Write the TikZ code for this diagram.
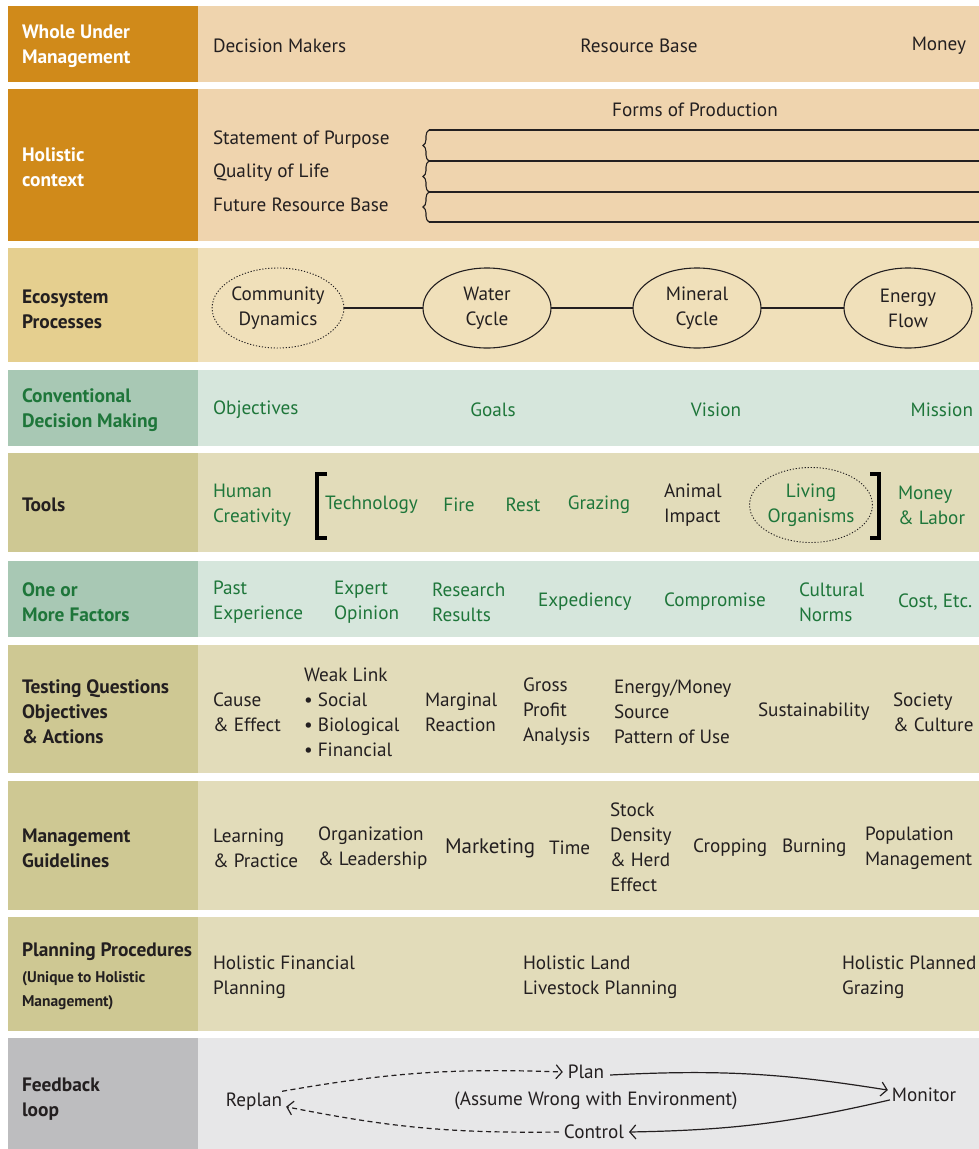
\documentclass[tikz,border=0pt]{standalone}
\usepackage{fontspec}
\setmainfont{PT Sans}
\usetikzlibrary{shapes.geometric,arrows.meta,decorations.pathreplacing}
\definecolor{orangeD}{RGB}{208,138,26}
\definecolor{peach}{RGB}{239,212,174}
\definecolor{sandD}{RGB}{229,207,143}
\definecolor{sandL}{RGB}{240,224,186}
\definecolor{greenD}{RGB}{168,200,180}
\definecolor{greenL}{RGB}{214,230,220}
\definecolor{greenT}{RGB}{30,118,58}
\definecolor{oliveD}{RGB}{206,200,147}
\definecolor{oliveL}{RGB}{226,220,186}
\definecolor{grayD}{RGB}{189,189,191}
\definecolor{grayL}{RGB}{231,231,232}
\definecolor{ink}{RGB}{35,31,32}
\newcommand\mainfs{\fontsize{19.2}{25}\selectfont}
\newcommand\labfs{\fontsize{19.4}{25}\selectfont}
\newcommand\bigfs{\fontsize{21}{25}\selectfont}
\newcommand\smallfs{\fontsize{15.5}{24}\selectfont}
\begin{document}
\begin{tikzpicture}[x=1pt,y=-1pt,
  every node/.style={inner sep=0pt, outer sep=0pt, text=ink, font=\mainfs, align=center},
  txt/.style={anchor=west, align=left},
  lab/.style={anchor=west, align=left, font=\labfs\bfseries},
  grn/.style={text=greenT},
  proc/.style={ellipse, draw=ink, line width=1.1pt, minimum width=128pt, minimum height=80pt},
  dotproc/.style={ellipse, draw=ink, line width=0.9pt, dash pattern=on 1.2pt off 1.8pt},
  link/.style={draw=ink, line width=1.1pt},
  rule/.style={draw=ink, line width=1.1pt},
  bracketline/.style={draw=black, line width=3.5pt},
  loopsolid/.style={draw=ink, line width=1.2pt, -{Straight Barb[length=6pt,width=14pt,line width=1.2pt]}},
  loopdash/.style={loopsolid, dash pattern=on 5pt off 3.5pt}
]
\useasboundingbox (0,0) rectangle (979,1149);
\fill[white] (0,0) rectangle (979,1149);
% row backgrounds
\fill[orangeD] (8,6) rectangle (198,82);   \fill[peach] (198,6) rectangle (979,82);
\fill[orangeD] (8,89) rectangle (198,241); \fill[peach] (198,89) rectangle (979,241);
\fill[sandD] (8,248) rectangle (198,362);  \fill[sandL] (198,248) rectangle (979,362);
\fill[greenD] (8,370) rectangle (198,446); \fill[greenL] (198,370) rectangle (979,446);
\fill[oliveD] (8,453) rectangle (198,552); \fill[oliveL] (198,453) rectangle (979,552);
\fill[greenD] (8,561) rectangle (198,637); \fill[greenL] (198,561) rectangle (979,637);
\fill[oliveD] (8,645) rectangle (198,773); \fill[oliveL] (198,645) rectangle (979,773);
\fill[oliveD] (8,781) rectangle (198,910); \fill[oliveL] (198,781) rectangle (979,910);
\fill[oliveD] (8,917) rectangle (198,1031); \fill[oliveL] (198,917) rectangle (979,1031);
\fill[grayD] (8,1038) rectangle (198,1149); \fill[grayL] (198,1038) rectangle (979,1149);

% Row 1
\node[lab, text=white] (l1) at (22,46) {Whole Under\\Management};
\node[txt] (dm) at (213,46) {Decision Makers};
\node (rb) at (639,46) {Resource Base};
\node[anchor=east] (money) at (966,46) {Money};

% Row 2
\node[lab, text=white] (l2) at (22,167) {Holistic\\context};
\node (fop) at (695,110) {Forms of Production};
\node[txt] (sop) at (213,140) {Statement of Purpose};
\node[txt] (qol) at (213,173) {Quality of Life};
\node[txt] (frb) at (213,205) {Future Resource Base};
\foreach \ya/\yb in {130/161,161/192,192/222}{
  \draw[rule, decorate, decoration={brace, amplitude=6pt}] (429,\yb) -- (429,\ya);
}
\foreach \yy in {130,161,192,222}{
  \draw[rule] (429,\yy) -- (979,\yy);
}

% Row 3
\node[lab] (l3) at (22,309) {Ecosystem\\Processes};
\node[proc, dotproc] (comm) at (278,308) {Community\\Dynamics};
\node[proc] (water) at (487,308) {Water\\Cycle};
\node[proc] (mineral) at (697,308) {Mineral\\Cycle};
\node[proc] (energy) at (908,308) {Energy\\Flow};
\draw[link] (comm) -- (water);
\draw[link] (water) -- (mineral);
\draw[link] (mineral) -- (energy);

% Row 4
\node[lab, grn] (l4) at (22,410) {Conventional\\Decision Making};
\node[txt, grn] (obj) at (213,410) {Objectives};
\node[grn] (goals) at (493,410) {Goals};
\node[grn] (vision) at (716,410) {Vision};
\node[anchor=east, grn] (mission) at (973,410) {Mission};

% Row 5
\node[lab] (l5) at (22,505) {Tools};
\node[txt, grn] (hc) at (213,505) {Human\\Creativity};
\draw[bracketline] (327,474) -- (317,474) -- (317,538) -- (327,538);
\node[txt, grn] (tech) at (325,505) {Technology};
\node[grn] (fire) at (459,505) {Fire};
\node[grn] (rest) at (523,505) {Rest};
\node[grn] (grazing) at (599,505) {Grazing};
\node[txt] (ai) at (664,505) {Animal\\Impact};
\node[dotproc, minimum width=119pt, minimum height=75pt, grn] (lo) at (811,505) {Living\\Organisms};
\draw[bracketline] (870,474) -- (879,474) -- (879,538) -- (870,538);
\node[txt, grn] (ml) at (898,505) {Money\\\& Labor};

% Row 6
\node[lab, grn] (l6) at (22,602) {One or\\More Factors};
\node[txt, grn] (pe) at (213,602) {Past\\Experience};
\node[txt, grn] (eo) at (334,602) {Expert\\Opinion};
\node[txt, grn] (rr) at (432,602) {Research\\Results};
\node[txt, grn] (exp) at (538,602) {Expediency};
\node[txt, grn] (comp) at (664,602) {Compromise};
\node[txt, grn] (cn) at (799,602) {Cultural\\Norms};
\node[txt, grn] (cost) at (898,602) {Cost, Etc.};

% Row 7
\node[lab] (l7) at (22,712) {Testing Questions\\Objectives\\\& Actions};
\node[txt] (ce) at (213,712) {Cause\\\& Effect};
\node[txt] (wl) at (304,712) {Weak Link\\• Social\\• Biological\\• Financial};
\node[txt] (mr) at (425,712) {Marginal\\Reaction};
\node[txt] (gp) at (523,712) {Gross\\Profit\\Analysis};
\node[txt] (em) at (614,712) {Energy/Money\\Source\\Pattern of Use};
\node[txt] (sus) at (758,712) {Sustainability};
\node[txt] (sc) at (893,712) {Society\\\& Culture};

% Row 8
\node[lab] (l8) at (22,848) {Management\\Guidelines};
\node[txt] (lp) at (213,848) {Learning\\\& Practice};
\node[txt] (ol) at (318,848) {Organization\\\& Leadership};
\node[txt, font=\bigfs] (mkt) at (445,848) {Marketing};
\node[txt] (time) at (549,848) {Time};
\node[txt] (sd) at (610,847) {Stock\\Density\\\& Herd\\Effect};
\node[txt] (crop) at (693,848) {Cropping};
\node[txt] (burn) at (782,848) {Burning};
\node[txt] (pm) at (865,848) {Population\\Management};

% Row 9
\node[lab] (l9) at (22,952) {Planning Procedures};
\node[lab, font=\smallfs\bfseries] (l9b) at (22,991) {(Unique to Holistic\\Management)};
\node[txt] (hfp) at (213,977) {Holistic Financial\\Planning};
\node[txt] (hlp) at (523,977) {Holistic Land\\Livestock Planning};
\node[txt] (hpg) at (842,977) {Holistic Planned\\Grazing};

% Row 10
\node[lab] (l10) at (22,1099) {Feedback\\loop};
\node (plan) at (586,1072) {Plan};
\node (monitor) at (924,1095) {Monitor};
\node (control) at (594,1132) {Control};
\node (replan) at (254,1102) {Replan};
\node (assume) at (596,1101) {(Assume Wrong with Environment)};
\draw[loopdash] ([shift={(0,-2)}]replan.north east) to[bend left=6] ([xshift=-5pt]plan.west);
\draw[loopsolid] ([xshift=6pt,yshift=-3pt]plan.east) to[bend left=6] ([xshift=-4pt,yshift=-2pt]monitor.north west);
\draw[loopsolid] ([xshift=-2pt,yshift=2pt]monitor.south west) to[bend left=6] ([xshift=5pt]control.east);
\draw[loopdash] ([xshift=-5pt]control.west) to[bend left=6] ([xshift=4pt,yshift=4pt]replan.south east);
\end{tikzpicture}
\end{document}
